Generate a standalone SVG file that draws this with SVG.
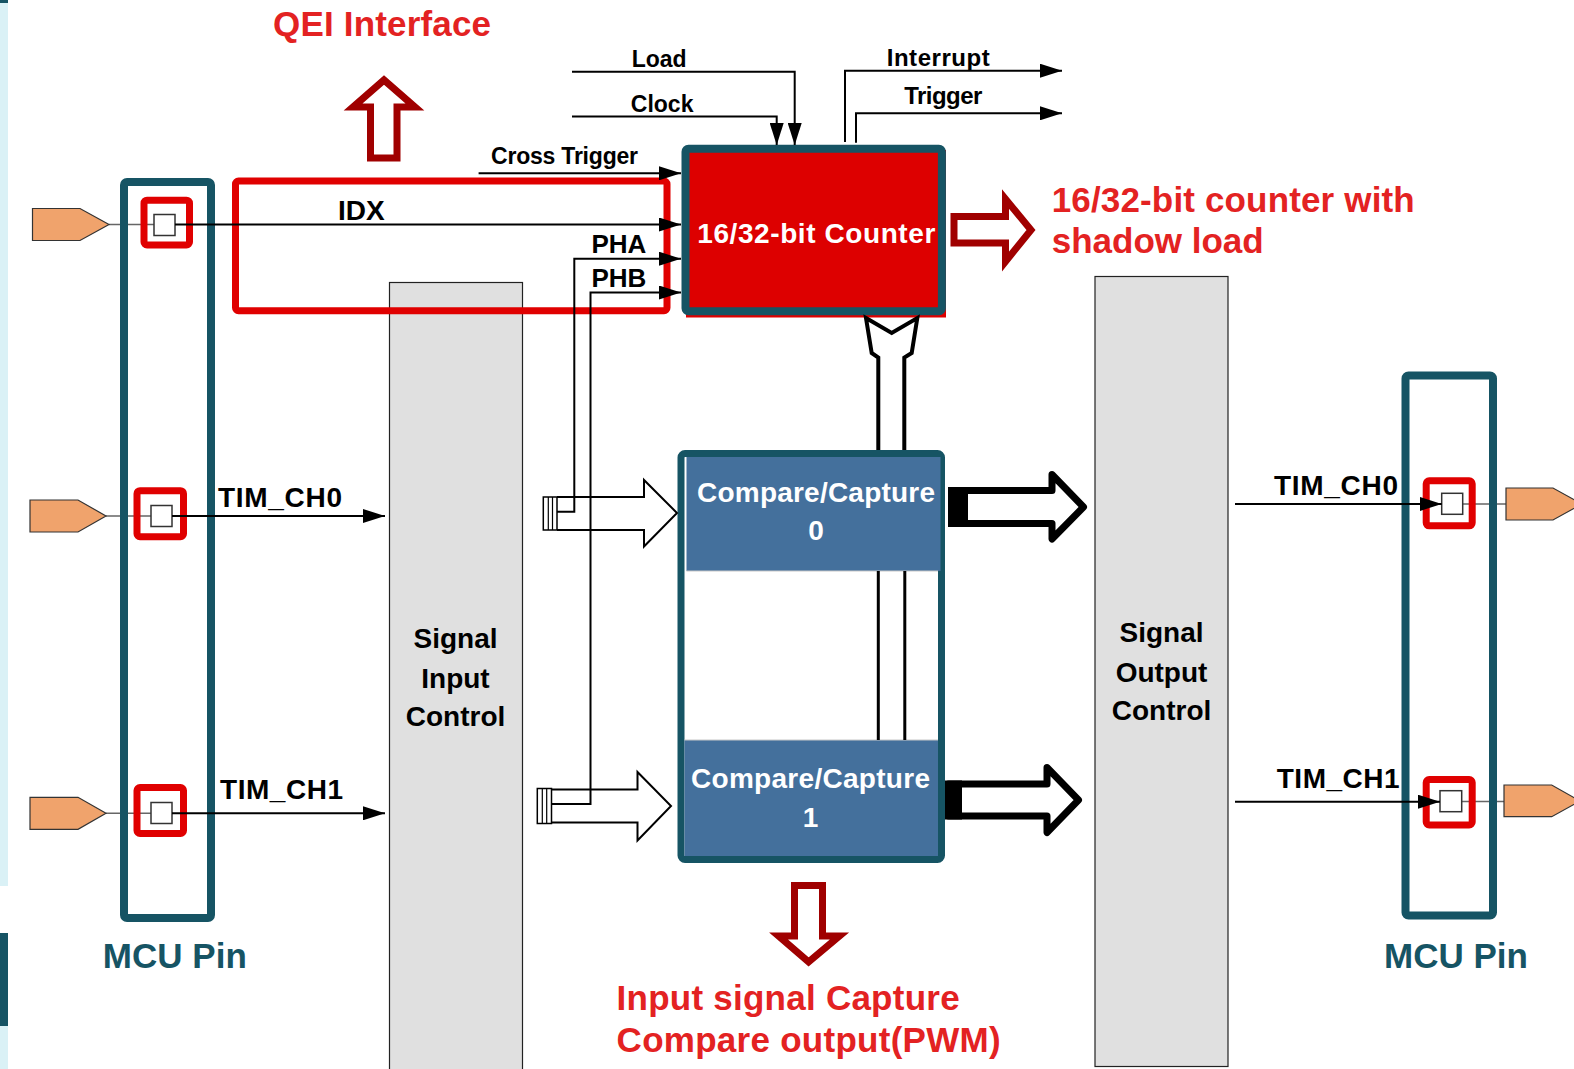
<svg xmlns="http://www.w3.org/2000/svg" width="1574" height="1069" viewBox="0 0 1574 1069">
<style>
.lbl{font-family:"Liberation Sans",Arial,sans-serif;font-weight:bold;fill:#000}
.wlbl{font-family:"Liberation Sans",Arial,sans-serif;font-weight:bold;fill:#fff}
.ann{font-family:"Liberation Sans",Arial,sans-serif;font-weight:bold;fill:#e32222;font-size:35px}
.mcu{font-family:"Liberation Sans",Arial,sans-serif;font-weight:bold;fill:#165464;font-size:35px}
.wire{fill:none;stroke:#000;stroke-width:2}
.arr{marker-end:url(#ah)}
.pinline{fill:none;stroke:#666;stroke-width:1.5}
.teal{fill:none;stroke:#165464;stroke-width:8}
.redsq{fill:none;stroke:#e00000;stroke-width:7}
.sq{fill:#fff;stroke:#333;stroke-width:1.5}
.pin{fill:#f0a36c;stroke:#333;stroke-width:1.2}
.gray{fill:#e0e0e0;stroke:#222;stroke-width:1.2}
.hollowred{fill:#fff;stroke:#a00000;stroke-width:7;stroke-linejoin:miter}
.thin{fill:none;stroke:#000;stroke-width:2}
.thick{fill:#fff;stroke:#000;stroke-width:7;stroke-linejoin:round}
.blue{fill:#44709c}
</style>
<defs>
<marker id="ah" viewBox="0 0 22 14" refX="22" refY="7" markerWidth="22" markerHeight="14" markerUnits="userSpaceOnUse" orient="auto"><path d="M0,0 L22,7 L0,14 Z" fill="#000"/></marker>
</defs>
<rect width="1574" height="1069" fill="#fff"/>
<!-- left edge strip -->
<rect x="0" y="0" width="8" height="886" fill="#daf1f6"/>
<rect x="0" y="0" width="8" height="3" fill="#165464"/>
<rect x="0" y="933" width="8" height="93" fill="#165464"/>
<rect x="0" y="1026" width="8" height="43" fill="#daf1f6"/>

<g id="signal-input-control">
<rect class="gray" x="389.5" y="282.5" width="133" height="800"/>
<text class="lbl" font-size="28" text-anchor="middle" x="455.5" y="648">Signal</text>
<text class="lbl" font-size="28" text-anchor="middle" x="455.5" y="688">Input</text>
<text class="lbl" font-size="28" text-anchor="middle" x="455.5" y="726">Control</text>
</g>
<g id="signal-output-control">
<rect class="gray" x="1095" y="276.5" width="133" height="790"/>
<text class="lbl" font-size="28" text-anchor="middle" x="1161.5" y="641.5">Signal</text>
<text class="lbl" font-size="28" text-anchor="middle" x="1161.5" y="681.5">Output</text>
<text class="lbl" font-size="28" text-anchor="middle" x="1161.5" y="720">Control</text>
</g>

<g id="qei-interface">
<rect x="235.5" y="181" width="431.5" height="129.7" rx="3" fill="none" stroke="#e00000" stroke-width="7"/>
<text class="ann" x="273" y="36" textLength="218">QEI Interface</text>
<path class="hollowred" d="M370.5,158 V107 H353 L384,80 L415,107 H397 V158 Z"/>
</g>

<g id="left-mcu-pin">
<path class="pinline" d="M109,224.5 H154 M106,516 H151 M106,813.3 H151"/>
<rect class="teal" x="124" y="182" width="87" height="736" rx="3"/>
<path class="pin" d="M32.5,208.5 H80 L109,224.5 L80,240.5 H32.5 Z"/>
<path class="pin" d="M30,500 H78 L106,516 L78,532 H30 Z"/>
<path class="pin" d="M30,797.3 H78 L106,813.3 L78,829.3 H30 Z"/>
<rect class="redsq" x="144" y="200.2" width="45.5" height="44.8" rx="3"/>
<rect class="redsq" x="137" y="490.7" width="46.5" height="46" rx="3"/>
<rect class="redsq" x="137" y="787.5" width="46.5" height="46" rx="3"/>
<rect class="sq" x="154" y="214.5" width="21" height="21"/>
<rect class="sq" x="151" y="505.5" width="21" height="21"/>
<rect class="sq" x="151" y="802.5" width="21" height="21"/>
<text class="mcu" x="102.8" y="968.3" textLength="144">MCU Pin</text>
</g>

<g id="right-mcu-pin">
<path class="pinline" d="M1462.7,504 H1506 M1461.7,801.5 H1504"/>
<rect class="teal" x="1405.5" y="375.5" width="87.5" height="540" rx="3"/>
<path class="pin" d="M1506,488 H1553 L1582,504 L1553,520 H1506 Z"/>
<path class="pin" d="M1504,785 H1551.7 L1580,801 L1551.7,816.7 H1504 Z"/>
<rect class="redsq" x="1426.2" y="480.8" width="46" height="45" rx="3"/>
<rect class="redsq" x="1426.2" y="779.5" width="46" height="45.5" rx="3"/>
<rect class="sq" x="1441.7" y="493.3" width="21" height="21"/>
<rect class="sq" x="1440" y="790.7" width="21.7" height="21"/>
<text class="mcu" x="1384" y="968.3" textLength="144">MCU Pin</text>
</g>

<g id="counter">
<rect x="686" y="150" width="260" height="167.5" fill="#dd0000"/>
<rect x="685.5" y="148.8" width="256.4" height="162.4" rx="3" fill="none" stroke="#165464" stroke-width="8"/>
<text class="wlbl" font-size="28" x="697.3" y="243.3" textLength="238">16/32-bit Counter</text>
</g>

<g id="shadow-load-note">
<path class="hollowred" d="M954,216.5 H1005.5 V199 L1031,230 L1005.5,261.5 V243 H954 Z"/>
<text class="ann" x="1051.7" y="212.3" textLength="363">16/32-bit counter with</text>
<text class="ann" x="1051.7" y="253.3" textLength="212">shadow load</text>
</g>

<g id="bus">
<path d="M866,318 L891.7,333 L917.3,318 L911.7,353 L904.3,357.5 L904.3,452 L878.3,452 L878.3,357.5 L871.7,353 Z" fill="#fff" stroke="#000" stroke-width="4" stroke-linejoin="miter"/>
</g>

<g id="compare-capture">
<rect x="681" y="453.5" width="260.5" height="406" rx="4" fill="#fff" stroke="#165464" stroke-width="7"/>
<rect class="blue" x="686.5" y="457" width="254" height="114"/>
<rect class="blue" x="684.5" y="740" width="253.5" height="116"/>
<path d="M686.5,571 H938 M684.5,740 H938" stroke="#c8c8c8" stroke-width="1.2"/>
<path d="M878.3,571 V740 M904.8,571 V740" stroke="#000" stroke-width="3"/>
<text class="wlbl" font-size="28" text-anchor="middle" x="816" y="501.7" textLength="238">Compare/Capture</text>
<text class="wlbl" font-size="28" text-anchor="middle" x="816" y="540">0</text>
<text class="wlbl" font-size="28" text-anchor="middle" x="810.5" y="788.3" textLength="239">Compare/Capture</text>
<text class="wlbl" font-size="28" text-anchor="middle" x="810.5" y="826.7">1</text>
</g>

<g id="capture-note">
<path class="hollowred" d="M794.5,885.5 H822.5 V936 H839.5 L808.6,962 L778.5,936 H794.5 Z"/>
<text class="ann" x="616.6" y="1010" textLength="343">Input signal Capture</text>
<text class="ann" x="616.6" y="1051.7" textLength="384">Compare output(PWM)</text>
</g>

<g id="connectors">
<path class="wire arr" d="M572,71.7 H794.7 V145"/>
<path class="wire arr" d="M572,116.5 H776.7 V145"/>
<path class="wire arr" d="M845,142 V70.7 H1062"/>
<path class="wire arr" d="M856,142.7 V113.3 H1062"/>
<path class="wire arr" d="M478.6,173.3 H681"/>
<path class="wire arr" d="M175,224.5 H681"/>
<path class="wire arr" d="M556.7,511.7 H574.3 V258.7 H681"/>
<path class="wire arr" d="M551.7,804 H590.5 V292.5 H681"/>
<path class="wire arr" d="M172,516 H385"/>
<path class="wire arr" d="M172,813.3 H385"/>
<path class="wire arr" d="M1235,504 H1441.7"/>
<path class="wire arr" d="M1235,801.7 H1440"/>
<!-- hollow input arrows with bundles -->
<path class="thin" d="M557,497 H644 V480 L677,513 L644,546.5 V530 H557"/>
<rect x="543.3" y="497" width="13.7" height="33" fill="#fff" stroke="#000" stroke-width="1.5"/>
<path d="M548.3,497 V530 M552.5,497 V530" stroke="#000" stroke-width="1.2"/>
<path class="thin" d="M551.5,789.5 H637.5 V772 L671,806 L637.5,840.5 V822.5 H551.5"/>
<rect x="537.3" y="788.5" width="14.2" height="35" fill="#fff" stroke="#000" stroke-width="1.5"/>
<path d="M542.3,788.5 V823.5 M546.7,788.5 V823.5" stroke="#000" stroke-width="1.2"/>
<!-- thick output arrows -->
<path class="thick" d="M951.5,490.5 H1052 V474.5 L1083.5,507 L1052,539 V523.5 H951.5 Z"/>
<rect x="948" y="487" width="20" height="40" fill="#000"/>
<path class="thick" d="M948.5,784 H1047 V767.5 L1078.5,800 L1047,832.5 V816 H948.5 Z"/>
<rect x="945" y="780.5" width="17" height="39" fill="#000"/>
</g>

<g id="labels">
<text class="lbl" font-size="23" x="631.7" y="66.7">Load</text>
<text class="lbl" font-size="23" x="630.8" y="111.7">Clock</text>
<text class="lbl" font-size="24" x="886.7" y="66" textLength="103">Interrupt</text>
<text class="lbl" font-size="24" x="904.3" y="104" textLength="78">Trigger</text>
<text class="lbl" font-size="23" x="491" y="164" textLength="147">Cross Trigger</text>
<text class="lbl" font-size="28" x="338" y="220">IDX</text>
<text class="lbl" font-size="26" x="591.5" y="253.3">PHA</text>
<text class="lbl" font-size="26" x="591.5" y="286.7">PHB</text>
<text class="lbl" font-size="28" x="218" y="506.7" textLength="124">TIM_CH0</text>
<text class="lbl" font-size="28" x="220" y="799.3" textLength="123">TIM_CH1</text>
<text class="lbl" font-size="28" x="1274" y="495" textLength="124">TIM_CH0</text>
<text class="lbl" font-size="28" x="1276.7" y="788.3" textLength="123">TIM_CH1</text>
</g>
</svg>
